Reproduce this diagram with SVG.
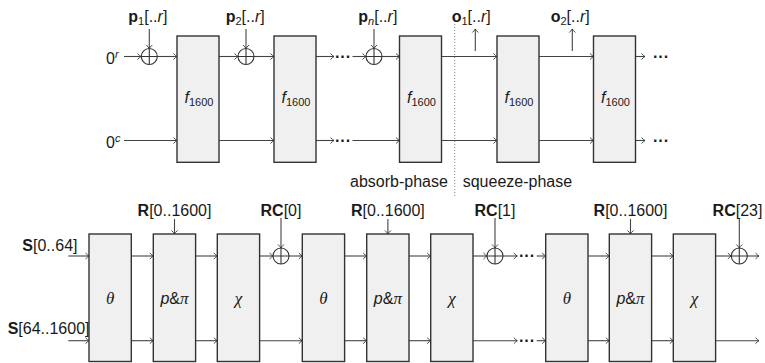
<svg xmlns="http://www.w3.org/2000/svg" width="765" height="363" viewBox="0 0 765 363">
<defs>
<marker id="ah" viewBox="-5 -4 6 8" refX="0" refY="0" markerWidth="6" markerHeight="8" markerUnits="userSpaceOnUse" orient="auto">
<path d="M -3.5 -3 Q -1.2 -0.6 0 0 Q -1.2 0.6 -3.5 3" fill="none" stroke="#333" stroke-width="0.9"/>
</marker>
<style>
.box{fill:#f0f0f0;stroke:#333;stroke-width:1.4}
.ln{fill:none;stroke:#444;stroke-width:1.1}
.ar{fill:none;stroke:#444;stroke-width:1.1;marker-end:url(#ah)}
.xo{fill:none;stroke:#333;stroke-width:1.1}
.t{font-family:"Liberation Sans",Arial,sans-serif;font-size:16px;fill:#1a1a1a}
.m{font-family:"Liberation Serif","DejaVu Serif",serif;font-style:italic;font-size:17px;fill:#1a1a1a}
.d{font-family:"Liberation Sans",Arial,sans-serif;font-size:16px;font-weight:bold;fill:#1a1a1a}
.b{font-weight:bold}
.i{font-style:italic}
.s{font-size:11px}
.dot{fill:none;stroke:#777;stroke-width:0.9;stroke-dasharray:1 2}
</style>
</defs>

<!-- ===== Top: sponge construction ===== -->
<g id="top-connectors">
<!-- upper rail -->
<line class="ar" x1="124" y1="56.5" x2="141" y2="56.5"/>
<line class="ar" x1="157.5" y1="56.5" x2="177" y2="56.5"/>
<line class="ar" x1="219" y1="56.5" x2="238" y2="56.5"/>
<line class="ar" x1="254" y1="56.5" x2="274" y2="56.5"/>
<line class="ar" x1="316" y1="56.5" x2="334" y2="56.5"/>
<line class="ar" x1="352.5" y1="56.5" x2="366" y2="56.5"/>
<line class="ar" x1="382" y1="56.5" x2="399.5" y2="56.5"/>
<line class="ar" x1="441.5" y1="56.5" x2="497" y2="56.5"/>
<line class="ar" x1="539" y1="56.5" x2="593.5" y2="56.5"/>
<line class="ar" x1="635.5" y1="56.5" x2="645" y2="56.5"/>
<!-- lower rail -->
<line class="ar" x1="124" y1="140.5" x2="177" y2="140.5"/>
<line class="ar" x1="219" y1="140.5" x2="274" y2="140.5"/>
<line class="ar" x1="316" y1="140.5" x2="334" y2="140.5"/>
<line class="ar" x1="352.5" y1="140.5" x2="399.5" y2="140.5"/>
<line class="ar" x1="441.5" y1="140.5" x2="497" y2="140.5"/>
<line class="ar" x1="539" y1="140.5" x2="593.5" y2="140.5"/>
<line class="ar" x1="635.5" y1="140.5" x2="645" y2="140.5"/>
<!-- inputs p -->
<line class="ar" x1="149.3" y1="29" x2="149.3" y2="48.5"/>
<line class="ar" x1="246" y1="29" x2="246" y2="48.5"/>
<line class="ar" x1="374" y1="29" x2="374" y2="48.5"/>
<!-- outputs o -->
<line class="ar" x1="475.3" y1="51" x2="475.3" y2="29"/>
<line class="ar" x1="572.3" y1="51" x2="572.3" y2="29"/>
<!-- phase separator -->
<line class="dot" x1="454.7" y1="15" x2="454.7" y2="197"/>
</g>

<g id="xor-p1"><circle class="xo" cx="149.3" cy="56.5" r="8"/><path class="xo" d="M141.3 56.5H157.3M149.3 48.5V64.5"/></g>
<g id="xor-p2"><circle class="xo" cx="246" cy="56.5" r="8"/><path class="xo" d="M238 56.5H254M246 48.5V64.5"/></g>
<g id="xor-pn"><circle class="xo" cx="374" cy="56.5" r="8"/><path class="xo" d="M366 56.5H382M374 48.5V64.5"/></g>

<g id="f1"><rect class="box" x="177" y="36" width="42" height="126.3"/><text class="t" x="184.5" y="103"><tspan class="i">f</tspan><tspan class="s" dy="3">1600</tspan></text></g>
<g id="f2"><rect class="box" x="274" y="36" width="42" height="126.3"/><text class="t" x="281.5" y="103"><tspan class="i">f</tspan><tspan class="s" dy="3">1600</tspan></text></g>
<g id="f3"><rect class="box" x="399.5" y="36" width="42" height="126.3"/><text class="t" x="407" y="103"><tspan class="i">f</tspan><tspan class="s" dy="3">1600</tspan></text></g>
<g id="f4"><rect class="box" x="497" y="36" width="42" height="126.3"/><text class="t" x="504.5" y="103"><tspan class="i">f</tspan><tspan class="s" dy="3">1600</tspan></text></g>
<g id="f5"><rect class="box" x="593.5" y="36" width="42" height="126.3"/><text class="t" x="601" y="103"><tspan class="i">f</tspan><tspan class="s" dy="3">1600</tspan></text></g>

<g id="top-labels">
<text class="t" x="106" y="63.5">0<tspan class="s i" dy="-6">r</tspan></text>
<text class="t" x="106" y="147.5">0<tspan class="s i" dy="-6">c</tspan></text>
<text class="t" x="128.3" y="21.7"><tspan class="b">p</tspan><tspan class="s" dy="3">1</tspan><tspan dy="-3">[..</tspan><tspan class="i">r</tspan>]</text>
<text class="t" x="225.7" y="21.7"><tspan class="b">p</tspan><tspan class="s" dy="3">2</tspan><tspan dy="-3">[..</tspan><tspan class="i">r</tspan>]</text>
<text class="t" x="358.3" y="21.7"><tspan class="b">p</tspan><tspan class="s i" dy="3">n</tspan><tspan dy="-3">[..</tspan><tspan class="i">r</tspan>]</text>
<text class="t" x="451.7" y="21.7"><tspan class="b">o</tspan><tspan class="s" dy="3">1</tspan><tspan dy="-3">[..</tspan><tspan class="i">r</tspan>]</text>
<text class="t" x="550.7" y="21.7"><tspan class="b">o</tspan><tspan class="s" dy="3">2</tspan><tspan dy="-3">[..</tspan><tspan class="i">r</tspan>]</text>
<text class="d" x="335" y="61.5">···</text>
<text class="d" x="335" y="145.5">···</text>
<text class="d" x="653" y="61.5">···</text>
<text class="d" x="653" y="145.5">···</text>
<text class="t" x="350" y="186.7">absorb-phase</text>
<text class="t" x="462.7" y="186.7">squeeze-phase</text>
</g>

<!-- ===== Bottom: Keccak-f rounds ===== -->
<g id="bottom-connectors">
<!-- upper rail -->
<line class="ar" x1="68.3" y1="256" x2="89" y2="256"/>
<line class="ar" x1="131.3" y1="256" x2="153.3" y2="256"/>
<line class="ar" x1="195.7" y1="256" x2="217.3" y2="256"/>
<line class="ar" x1="259.7" y1="256" x2="273" y2="256"/>
<line class="ar" x1="289" y1="256" x2="302.3" y2="256"/>
<line class="ar" x1="344.7" y1="256" x2="366.7" y2="256"/>
<line class="ar" x1="409" y1="256" x2="430.7" y2="256"/>
<line class="ar" x1="473" y1="256" x2="487" y2="256"/>
<line class="ar" x1="503" y1="256" x2="517.3" y2="256"/>
<line class="ar" x1="536.7" y1="256" x2="545.7" y2="256"/>
<line class="ar" x1="588" y1="256" x2="609.3" y2="256"/>
<line class="ar" x1="651.7" y1="256" x2="673.3" y2="256"/>
<line class="ar" x1="715.7" y1="256" x2="731.3" y2="256"/>
<line class="ar" x1="747.3" y1="256" x2="759" y2="256"/>
<!-- lower rail -->
<line class="ar" x1="68.3" y1="340.7" x2="89" y2="340.7"/>
<line class="ar" x1="131.3" y1="340.7" x2="153.3" y2="340.7"/>
<line class="ar" x1="195.7" y1="340.7" x2="217.3" y2="340.7"/>
<line class="ar" x1="259.7" y1="340.7" x2="302.3" y2="340.7"/>
<line class="ar" x1="344.7" y1="340.7" x2="366.7" y2="340.7"/>
<line class="ar" x1="409" y1="340.7" x2="430.7" y2="340.7"/>
<line class="ar" x1="473" y1="340.7" x2="517.3" y2="340.7"/>
<line class="ar" x1="536.7" y1="340.7" x2="545.7" y2="340.7"/>
<line class="ar" x1="588" y1="340.7" x2="609.3" y2="340.7"/>
<line class="ar" x1="651.7" y1="340.7" x2="673.3" y2="340.7"/>
<line class="ar" x1="715.7" y1="340.7" x2="759" y2="340.7"/>
<!-- R inputs -->
<line class="ar" x1="174.5" y1="219" x2="174.5" y2="234"/>
<line class="ar" x1="387.9" y1="219" x2="387.9" y2="234"/>
<line class="ar" x1="630.5" y1="219" x2="630.5" y2="234"/>
<!-- RC inputs -->
<line class="ar" x1="281" y1="218" x2="281" y2="248"/>
<line class="ar" x1="495" y1="218" x2="495" y2="248"/>
<line class="ar" x1="739.3" y1="218" x2="739.3" y2="248"/>
</g>

<g id="xor-rc0"><circle class="xo" cx="281" cy="256" r="8"/><path class="xo" d="M273 256H289M281 248V264"/></g>
<g id="xor-rc1"><circle class="xo" cx="495" cy="256" r="8"/><path class="xo" d="M487 256H503M495 248V264"/></g>
<g id="xor-rc23"><circle class="xo" cx="739.3" cy="256" r="8"/><path class="xo" d="M731.3 256H747.3M739.3 248V264"/></g>

<g id="theta1"><rect class="box" x="89" y="234" width="42.3" height="127.5"/><text class="m" x="110.2" y="304" text-anchor="middle">θ</text></g>
<g id="rhopi1"><rect class="box" x="153.3" y="234" width="42.3" height="127.5"/><text class="t" x="174.5" y="304" text-anchor="middle"><tspan class="i">p</tspan>&amp;<tspan class="m">π</tspan></text></g>
<g id="chi1"><rect class="box" x="217.3" y="234" width="42.3" height="127.5"/><text class="m" x="238.5" y="304" text-anchor="middle">χ</text></g>
<g id="theta2"><rect class="box" x="302.3" y="234" width="42.3" height="127.5"/><text class="m" x="323.5" y="304" text-anchor="middle">θ</text></g>
<g id="rhopi2"><rect class="box" x="366.7" y="234" width="42.3" height="127.5"/><text class="t" x="387.9" y="304" text-anchor="middle"><tspan class="i">p</tspan>&amp;<tspan class="m">π</tspan></text></g>
<g id="chi2"><rect class="box" x="430.7" y="234" width="42.3" height="127.5"/><text class="m" x="451.9" y="304" text-anchor="middle">χ</text></g>
<g id="theta3"><rect class="box" x="545.7" y="234" width="42.3" height="127.5"/><text class="m" x="566.9" y="304" text-anchor="middle">θ</text></g>
<g id="rhopi3"><rect class="box" x="609.3" y="234" width="42.3" height="127.5"/><text class="t" x="630.5" y="304" text-anchor="middle"><tspan class="i">p</tspan>&amp;<tspan class="m">π</tspan></text></g>
<g id="chi3"><rect class="box" x="673.3" y="234" width="42.3" height="127.5"/><text class="m" x="694.5" y="304" text-anchor="middle">χ</text></g>

<g id="bottom-labels">
<text class="t" x="77.5" y="251" text-anchor="end"><tspan class="b">S</tspan>[0..64]</text>
<text class="t" x="89.5" y="334" text-anchor="end"><tspan class="b">S</tspan>[64..1600]</text>
<text class="t" x="174.5" y="215.7" text-anchor="middle"><tspan class="b">R</tspan>[0..1600]</text>
<text class="t" x="387.9" y="215.7" text-anchor="middle"><tspan class="b">R</tspan>[0..1600]</text>
<text class="t" x="630.5" y="215.7" text-anchor="middle"><tspan class="b">R</tspan>[0..1600]</text>
<text class="t" x="281" y="215.7" text-anchor="middle"><tspan class="b">RC</tspan>[0]</text>
<text class="t" x="495" y="215.7" text-anchor="middle"><tspan class="b">RC</tspan>[1]</text>
<text class="t" x="737.5" y="215.7" text-anchor="middle"><tspan class="b">RC</tspan>[23]</text>
<text class="d" x="519" y="261">···</text>
<text class="d" x="519" y="345.7">···</text>
</g>
</svg>
